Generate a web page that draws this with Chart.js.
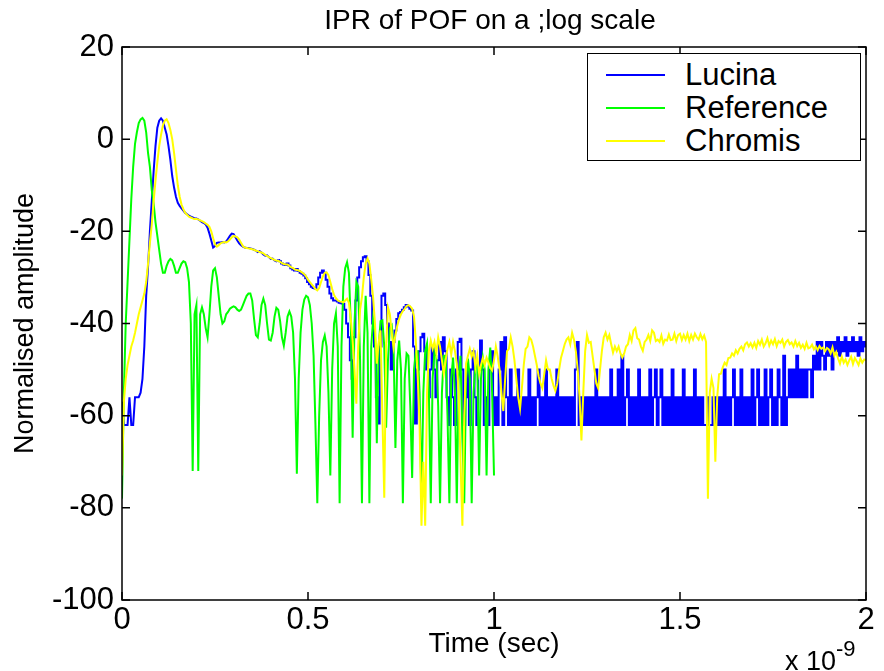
<!DOCTYPE html>
<html lang="en">
<head>
  <meta charset="UTF-8" />
  <title>IPR of POF on a ;log scale</title>
  <style>
    * { box-sizing: border-box; }
    body {
      margin: 0;
      background: #fff;
      font-family: 'Liberation Sans', Arial, sans-serif;
    }
    #wrap {
      position: relative;
      width: 884px;
      height: 671px;
    }
    #title {
      position: absolute;
      left: 0;
      width: 980px;
      top: 4px;
      text-align: center;
      font-size: 28px;
      color: #000;
    }
    #legend {
      position: absolute;
      left: 587px;
      top: 53px;
      width: 274px;
      height: 108px;
      border: 1.5px solid #000;
      background: #fff;
      padding-top: 4px;
    }
    .row {
      display: flex;
      align-items: center;
      height: 33px;
    }
    .swatch {
      width: 59px;
      height: 2px;
      margin-left: 18px;
      margin-right: 20px;
    }
    .row span { font-size: 31px; color: #000; }
    #expo {
      position: absolute;
      left: 785px;
      top: 636px;
      font-size: 27px;
      color: #000;
    }
    #expo sup { font-size: 22px; vertical-align: 14px; }
  </style>
</head>
<body>
  <div id="wrap">
    <canvas id="ipr" width="884" height="671"></canvas>
    <div id="title">IPR of POF on a ;log scale</div>
    <div id="legend"></div>
    <div id="expo">x 10<sup>-9</sup></div>
  </div>

  <script src="https://cdn.jsdelivr.net/npm/chart.js"></script>
  <script>
    // time axis in units of 1e-9 s, one sample every 0.005
    const timeStep = 0.005;
    const xTickValues = [0, 0.5, 1, 1.5, 2];
    const yTickValues = [20, 0, -20, -40, -60, -80, -100];
    const seriesNames = ['Lucina', 'Reference', 'Chromis'];
    const seriesColors = ['#0000ff', '#00ff00', '#ffff00'];
    // Lucina is quantised after this sample, drawn as steps from there on
    const lucinaStepFrom = 84;

    // Lucina (blue), 0 .. 2
    const lucina = [
      -57,-62,-62,-62,-56,-62,-62,-56,-56,-56,-55,-52,-45,-34,-27.8,-20,-13.5,-7,-1.5,2.5,
      4,4.5,4,2.5,1,-1.5,-4.5,-8,-10.5,-12.5,-13.8,-14.5,-15,-15.5,-16,-16.3,-16.6,-16.8,-17,-17.2,
      -17.2,-17.4,-17.7,-18,-18.2,-18.5,-19.2,-20.5,-22,-23.5,-23.2,-22.5,-22.4,-22.4,-22.3,-22.4,-22.2,-21.6,-21,-20.5,
      -20.6,-21.3,-22,-22.6,-23,-23.3,-23.5,-23.6,-23.6,-23.7,-23.8,-24,-24.2,-24.5,-24.3,-24.6,-25,-25.3,-25.2,-25.6,
      -26,-25.9,-26.3,-26.5,-26.2,-26.5,-27,-27.2,-27.3,-27,-27.4,-28,-28.3,-28.5,-28.2,-28.6,-29,-29.2,-29.6,-30.2,
      -31,-31.5,-32,-32.3,-32.4,-31.5,-30,-29,-28.5,-29,-30.5,-32,-33.5,-34.5,-35,-35,-35.2,-35.5,-35.6,-35.7,
      -37,-40,-43,-48,-52,-43,-35,-30,-27.8,-26.5,-25.6,-25.4,-26.5,-29.5,-34,-40,-45,-56,-61.7,-45,
      -34,-33.5,-36,-40,-44,-50,-44,-41.5,-39,-37.8,-37.5,-37,-36.5,-36,-36.3,-36.8,-37.2,-45,-61.7,-50,
      -46,-43,-42.2,-46,-50,-56,-50,-45,-50,-56,-48,-44,-50,-43,-46,-56,-62,-50,-56,-62,
      -50,-44,-43.3,-50,-62,-56,-50,-62,-50,-46,-56,-62,-50,-43.7,-50,-62,-56,-62,-50,-46,
      -62,-56,-62,-50,-44,-62,-43,-56,-62,-50,-62,-56,-62,-50,-62,-56,-62,-56,-62,-50,
      -62,-56,-62,-56,-50,-62,-56,-62,-50,-62,-56,-62,-56,-62,-50,-62,-56,-62,-56,-62,
      -56,-62,-56,-62,-50,-44,-62,-56,-62,-56,-62,-56,-62,-56,-62,-50,-62,-56,-62,-56,
      -62,-56,-62,-50,-62,-56,-62,-50,-62,-47,-62,-56,-50,-62,-56,-62,-56,-62,-50,-62,
      -56,-62,-56,-62,-50,-62,-56,-50,-62,-56,-50,-62,-56,-62,-56,-62,-50,-62,-56,-62,
      -56,-62,-50,-62,-56,-62,-56,-62,-50,-62,-56,-62,-56,-62,-62,-56,-62,-62,-56,-62,
      -56,-62,-56,-62,-50,-62,-56,-62,-56,-50,-62,-56,-62,-50,-62,-56,-62,-56,-62,-50,
      -62,-56,-50,-62,-56,-62,-50,-62,-56,-50,-62,-56,-62,-50,-56,-62,-47,-62,-56,-50,
      -56,-50,-56,-47,-56,-50,-56,-50,-56,-50,-50,-56,-47,-50,-44,-50,-44,-47,-50,-44,
      -47,-44,-50,-44,-46,-43,-47,-44,-46,-43,-47,-44,-46,-43,-46,-44,-47,-43,-46,-44,
      -45
    ];

    // Reference (green), 0 .. 1
    const reference = [
      -78,-55,-40,-31,-22,-13,-6,-1,1.5,3.5,4.3,4.6,4,1.5,-3,-6,-11,-14,-18,-21,
      -24,-27,-29,-29,-27.5,-26.5,-26,-26.3,-27.5,-29,-29,-28,-27,-26.5,-26.7,-28,-31,-40,-72,-38,
      -36,-72,-38,-36.5,-38,-41,-43,-38,-32,-28.5,-28,-30,-34,-38,-40,-39.5,-38,-37.5,-36.8,-36.5,
      -36.3,-36.5,-37,-37.3,-37,-36,-35,-34,-33.5,-33.5,-35,-39,-42.5,-43,-40,-36,-34.6,-36,-40,-43.5,
      -43.7,-42,-38.5,-36.6,-37,-39.5,-43,-44.8,-42,-38.5,-37.4,-38.5,-42,-52,-72.6,-52,-42,-37,-34.8,-34,
      -34.3,-36,-40,-47,-62,-79,-60,-48,-44,-42.6,-45,-55,-73,-50,-40,-37.8,-45,-79,-45,-32,
      -28,-26.7,-29,-40,-64.8,-40,-31,-32,-48,-79,-45,-34,-42,-79,-45,-39,-42,-66,-45,-39.5,
      -39.3,-45,-62.6,-48,-41,-40.4,-45,-67,-48,-43.7,-50,-79,-52,-46.5,-47,-58,-73.5,-50,-46,-46,
      -55,-79,-55,-46,-44.3,-55,-79,-52,-46,-47,-58,-79,-55,-47,-47,-60,-79,-52,-47.4,-55,
      -79,-52,-47,-65,-79,-52,-47.6,-52,-79,-55,-49,-48.7,-73,-52,-47.4,-50,-73,-50,-45.2,-55,
      -73
    ];

    // Chromis (yellow), 0 .. 2
    const chromis = [
      -73,-57,-52,-49,-47,-45,-43.7,-42,-40,-38,-36.5,-35,-33.5,-31,-27,-22.5,-18.5,-13.5,-9,-5,
      -1.5,1,3,4,4.3,3.5,2,0,-3,-6.5,-10,-12.5,-14.2,-15.2,-16,-16.4,-16.8,-17,-17.2,-17.3,
      -17.3,-17.4,-17.6,-17.8,-18,-18.3,-18.6,-19,-20,-21.5,-22.8,-23.3,-23,-22.6,-22.4,-22.3,-22.4,-22.2,-21.8,-21.3,
      -21,-21.1,-21.3,-21.8,-22.5,-23.2,-23.5,-23.6,-23.7,-23.8,-23.9,-24,-24.2,-24.3,-24.5,-24.6,-24.8,-25.1,-25.3,-25.6,
      -25.8,-26,-26.2,-26.4,-26.4,-26.6,-26.9,-27.1,-27.2,-27.2,-27.5,-27.8,-28,-28.3,-28.4,-28.5,-28.7,-29,-29.3,-29.8,
      -30.5,-31,-31.5,-32,-32.5,-32.8,-32.3,-31,-29.8,-29,-28.9,-29.5,-31,-32.5,-33.8,-34.5,-35,-35.2,-35.3,-35.4,
      -35,-34.6,-35.5,-39,-43.7,-50,-57.4,-45,-37,-34.3,-30,-27,-25.9,-27,-30.5,-34.3,-40,-48.7,-44,-41.5,
      -60,-77.8,-45,-36.5,-38,-42,-45.2,-42.5,-40.5,-39,-38,-37.3,-36.8,-36.2,-36,-36.3,-36.8,-38.5,-44,-51.7,
      -62,-83.9,-70,-83.9,-55,-46,-43.7,-45.5,-44,-46.5,-43,-45,-48,-50.9,-48,-45.5,-44,-46.7,-44,-46,
      -48.7,-55,-70,-83.9,-60,-48.7,-47,-45.5,-47.2,-46,-49.5,-47,-50.9,-49,-47.5,-49,-47.4,-48.5,-49.6,-50.2,
      -48,-45,-47.2,-50,-55,-59,-52,-46,-45.5,-43,-45,-48,-52,-56,-58.5,-54,-49,-45.5,-45,-43,
      -43.5,-45,-47,-49,-51.5,-53,-54,-51,-48,-50,-50,-52,-53.5,-54.6,-53,-50,-47.5,-46,-44.5,-43.5,
      -43,-44.5,-42,-43.5,-46,-50,-56,-65.4,-55,-46,-42.5,-44.2,-44,-47,-50,-53,-54,-50,-46,-43,
      -42,-43.5,-42.5,-44.5,-46.3,-45,-46,-45,-46.5,-47.4,-46.5,-45,-44.5,-42.5,-43.8,-41.5,-41,-43.2,-43.5,-45,
      -45.9,-44,-43.5,-42.5,-43.8,-41.5,-42,-43.8,-43.5,-44,-42.6,-44.4,-43.5,-43.7,-42.4,-43.6,-43.5,-42.2,-43.8,-42.5,
      -42.2,-43.6,-42.5,-43.5,-42.2,-43.8,-42.5,-43.5,-42.2,-43,-43.5,-42.3,-43.4,-42.6,-44,-78,-55,-52,-54,-70,
      -56,-51,-50.9,-49.5,-48.5,-49,-47.5,-47.4,-46.5,-47,-45.8,-46.5,-45.5,-45,-45.8,-44.5,-44.1,-45,-44.3,-45.2,
      -44.2,-45.3,-43.8,-44.6,-43.5,-45,-44.3,-43.2,-44.8,-43.7,-44.5,-43.4,-44.9,-43.8,-44.2,-43.5,-45,-44,-43.6,-44.5,
      -44.1,-45,-43.8,-44.9,-44.2,-45.3,-44.6,-45.5,-44.2,-45.4,-45.2,-44.6,-45.6,-45,-45.8,-44.9,-45.5,-45.2,-46,-45.3,
      -45.6,-46.5,-45.2,-47,-46.2,-47.6,-48.7,-47.2,-48.5,-47.8,-49,-48,-47.2,-48.8,-47.5,-48.2,-49,-47.6,-48.5,-47.8,
      -48
    ];

    function toPoints(values) {
      return values.map((v, i) => ({ x: i * timeStep, y: v }));
    }

    // legend drawn as html inside the axes box
    const legend = document.getElementById('legend');
    seriesNames.forEach((name, i) => {
      const row = document.createElement('div');
      row.className = 'row';
      row.innerHTML = '<div class="swatch" style="background:' + seriesColors[i] + '"></div><span>' + name + '</span>';
      legend.appendChild(row);
    });

    // full box with inward ticks on all four sides
    const boxTicks = {
      id: 'boxTicks',
      afterDatasetsDraw(chart) {
        const { ctx, chartArea: a, scales: { x, y } } = chart;
        ctx.save();
        ctx.strokeStyle = '#000';
        ctx.lineWidth = 1.5;
        ctx.strokeRect(a.left, a.top, a.right - a.left, a.bottom - a.top);
        ctx.beginPath();
        xTickValues.forEach(v => {
          const px = x.getPixelForValue(v);
          ctx.moveTo(px, a.bottom); ctx.lineTo(px, a.bottom - 8);
          ctx.moveTo(px, a.top); ctx.lineTo(px, a.top + 8);
        });
        yTickValues.forEach(v => {
          const py = y.getPixelForValue(v);
          ctx.moveTo(a.left, py); ctx.lineTo(a.left + 8, py);
          ctx.moveTo(a.right, py); ctx.lineTo(a.right - 8, py);
        });
        ctx.stroke();
        ctx.restore();
      }
    };

    function lineSet(label, points, color, order, stepped) {
      return {
        label,
        data: points,
        borderColor: color,
        borderWidth: 2,
        pointRadius: 0,
        tension: 0,
        stepped,
        fill: false,
        order
      };
    }

    const lucinaPts = toPoints(lucina);

    new Chart(document.getElementById('ipr'), {
      type: 'line',
      data: {
        datasets: [
          lineSet(seriesNames[0], lucinaPts.slice(0, lucinaStepFrom + 1), seriesColors[0], 3, false),
          lineSet(seriesNames[0], lucinaPts.slice(lucinaStepFrom), seriesColors[0], 3, 'middle'),
          lineSet(seriesNames[1], toPoints(reference), seriesColors[1], 2, false),
          lineSet(seriesNames[2], toPoints(chromis), seriesColors[2], 1, false)
        ]
      },
      options: {
        responsive: false,
        animation: false,
        parsing: false,
        layout: { padding: { left: 0, right: 18, top: 47, bottom: 0 } },
        plugins: {
          legend: { display: false },
          tooltip: { enabled: false }
        },
        scales: {
          x: {
            type: 'linear',
            min: 0,
            max: 2,
            afterFit(scale) { scale.height = 71; },
            afterBuildTicks(scale) { scale.ticks = xTickValues.map(v => ({ value: v })); },
            grid: { display: false, drawTicks: false },
            border: { display: false },
            ticks: {
              color: '#000',
              padding: 2,
              font: { family: 'Liberation Sans', size: 31 },
              maxRotation: 0,
              autoSkip: false,
              callback: v => String(v)
            },
            title: {
              display: true,
              text: 'Time (sec)',
              color: '#000',
              font: { family: 'Liberation Sans', size: 28 },
              padding: { top: 0, bottom: 10 }
            }
          },
          y: {
            min: -100,
            max: 20,
            afterFit(scale) { scale.width = 122; },
            afterBuildTicks(scale) { scale.ticks = yTickValues.map(v => ({ value: v })); },
            grid: { display: false, drawTicks: false },
            border: { display: false },
            ticks: {
              color: '#000',
              padding: 8,
              font: { family: 'Liberation Sans', size: 31 },
              callback: v => String(v)
            },
            title: {
              display: true,
              text: 'Normalised amplitude',
              color: '#000',
              font: { family: 'Liberation Sans', size: 27 },
              padding: { top: 9, bottom: 0 }
            }
          }
        }
      },
      plugins: [boxTicks]
    });
  </script>
</body>
</html>
